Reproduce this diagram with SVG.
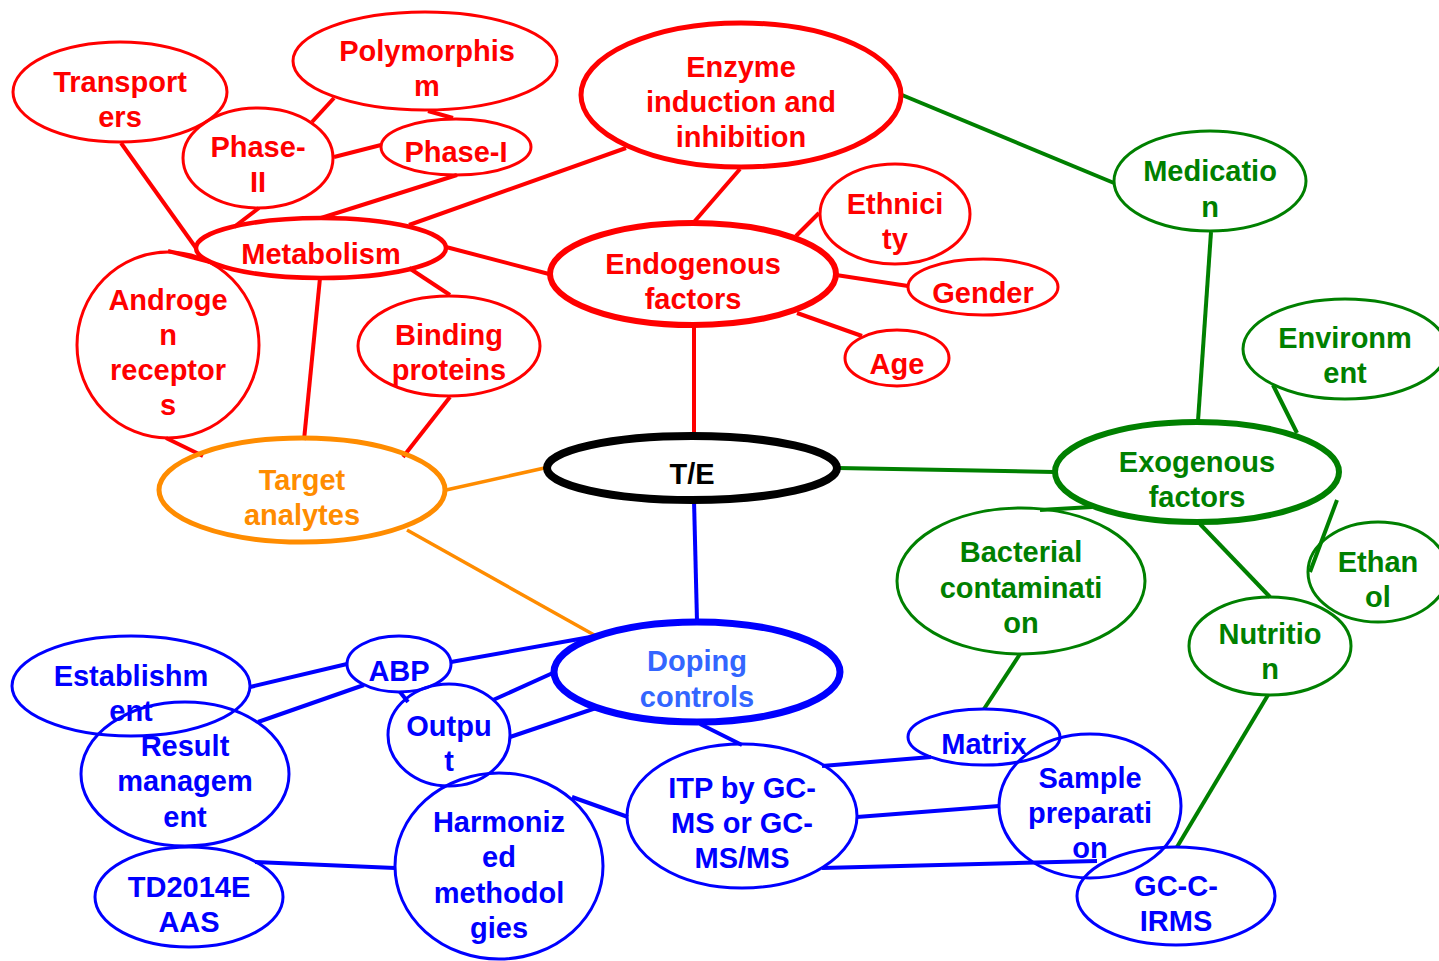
<svg xmlns="http://www.w3.org/2000/svg" width="1439" height="961" viewBox="0 0 1439 961">
<style>
text{font-family:"Liberation Sans",Arial,sans-serif;font-weight:bold;font-size:29px;text-anchor:middle}
ellipse{fill:none}
.r ellipse{stroke:#FF0000;stroke-width:3}
.r text{fill:#FF0000}
.g ellipse{stroke:#008000;stroke-width:3}
.g text{fill:#008000}
.b ellipse{stroke:#0000FF;stroke-width:3}
.b text{fill:#0000FF}
.cr line{stroke:#FF0000;stroke-width:4}
.cg line{stroke:#008000;stroke-width:4}
.cb line{stroke:#0000FF;stroke-width:4}
.co line{stroke:#FF8C00;stroke-width:3.5}
</style>
<rect width="1439" height="961" fill="#FFFFFF"/>
<g id="connectors">
<g class="cr">
<line x1="121" y1="143" x2="196" y2="248"/>
<line x1="334" y1="98" x2="312" y2="122"/>
<line x1="428" y1="111" x2="453" y2="118"/>
<line x1="334" y1="157" x2="381" y2="145"/>
<line x1="259" y1="208" x2="234" y2="227"/>
<line x1="457" y1="175" x2="321" y2="218"/>
<line x1="626" y1="148" x2="409" y2="225"/>
<line x1="446" y1="247" x2="549" y2="274"/>
<line x1="320" y1="278" x2="304" y2="440"/>
<line x1="409" y1="268" x2="450" y2="295"/>
<line x1="450" y1="397" x2="403" y2="457"/>
<line x1="166" y1="438" x2="203" y2="456"/>
<line x1="168" y1="251" x2="210" y2="262"/>
<line x1="740" y1="169" x2="694" y2="222"/>
<line x1="796" y1="236" x2="819" y2="213"/>
<line x1="836" y1="275" x2="908" y2="286"/>
<line x1="797" y1="313" x2="862" y2="336"/>
<line x1="694" y1="326" x2="694" y2="436"/>
</g>
<g class="cg">
<line x1="902" y1="95" x2="1114" y2="183"/>
<line x1="1211" y1="232" x2="1198" y2="421"/>
<line x1="1273" y1="385" x2="1297" y2="433"/>
<line x1="1337" y1="500" x2="1310" y2="572"/>
<line x1="1200" y1="524" x2="1270" y2="597"/>
<line x1="1054" y1="472" x2="838" y2="468"/>
<line x1="1040" y1="510" x2="1092" y2="507"/>
<line x1="1020" y1="654" x2="984" y2="709"/>
<line x1="1268" y1="695" x2="1177" y2="847"/>
</g>
<g class="co">
<line x1="446" y1="490" x2="549" y2="467"/>
<line x1="407" y1="530" x2="596" y2="636"/>
</g>
<g class="cb">
<line x1="694" y1="500" x2="697" y2="621"/>
<line x1="250" y1="687" x2="347" y2="664"/>
<line x1="451" y1="662" x2="596" y2="636"/>
<line x1="258" y1="722" x2="364" y2="685"/>
<line x1="400" y1="692" x2="408" y2="702"/>
<line x1="493" y1="700" x2="555" y2="672"/>
<line x1="510" y1="737" x2="596" y2="708"/>
<line x1="700" y1="724" x2="742" y2="745"/>
<line x1="572" y1="797" x2="628" y2="817"/>
<line x1="255" y1="862" x2="395" y2="868"/>
<line x1="822" y1="766" x2="931" y2="757"/>
<line x1="857" y1="817" x2="999" y2="806"/>
<line x1="822" y1="868" x2="1097" y2="861"/>
</g>
</g>
<g id="transporters" class="r"><ellipse cx="120" cy="92" rx="107" ry="50"/><text x="120" y="92">Transport</text><text x="120" y="127">ers</text></g>
<g id="polymorphism" class="r"><ellipse cx="425" cy="61" rx="132" ry="49"/><text x="427" y="61">Polymorphis</text><text x="427" y="96">m</text></g>
<g id="phase2" class="r"><ellipse cx="258" cy="158" rx="75" ry="50"/><text x="258" y="157">Phase-</text><text x="258" y="192">II</text></g>
<g id="phase1" class="r"><ellipse cx="456" cy="147" rx="75" ry="28"/><text x="456" y="162">Phase-I</text></g>
<g id="enzyme" class="r"><ellipse cx="741" cy="95" rx="160" ry="72" style="stroke-width:5"/><text x="741" y="77">Enzyme</text><text x="741" y="112">induction and</text><text x="741" y="147">inhibition</text></g>
<g id="metabolism" class="r"><ellipse cx="321" cy="248" rx="125" ry="30" style="stroke-width:4.5"/><text x="321" y="264">Metabolism</text></g>
<g id="ethnicity" class="r"><ellipse cx="895" cy="214" rx="75" ry="50"/><text x="895" y="214">Ethnici</text><text x="895" y="249">ty</text></g>
<g id="endogenous" class="r"><ellipse cx="693" cy="274" rx="143" ry="51" style="stroke-width:6"/><text x="693" y="274">Endogenous</text><text x="693" y="309">factors</text></g>
<g id="gender" class="r"><ellipse cx="983" cy="287" rx="75" ry="28"/><text x="983" y="303">Gender</text></g>
<g id="age" class="r"><ellipse cx="897" cy="358" rx="52" ry="28"/><text x="897" y="374">Age</text></g>
<g id="androgen" class="r"><ellipse cx="168" cy="345" rx="91" ry="93"/><text x="168" y="310">Androge</text><text x="168" y="345">n</text><text x="168" y="380">receptor</text><text x="168" y="415">s</text></g>
<g id="binding" class="r"><ellipse cx="449" cy="346" rx="91" ry="50"/><text x="449" y="345">Binding</text><text x="449" y="380">proteins</text></g>
<g id="te"><ellipse cx="692" cy="468" rx="145" ry="32" style="stroke:#000000;stroke-width:8"/><text x="692" y="484" style="fill:#000000">T/E</text></g>
<g id="target"><ellipse cx="302" cy="490" rx="143" ry="52" style="stroke:#FF8C00;stroke-width:5"/><text x="302" y="490" style="fill:#FF8C00">Target</text><text x="302" y="525" style="fill:#FF8C00">analytes</text></g>
<g id="medication" class="g"><ellipse cx="1210" cy="181" rx="96" ry="50"/><text x="1210" y="181">Medicatio</text><text x="1210" y="217">n</text></g>
<g id="environment" class="g"><ellipse cx="1345" cy="349" rx="102" ry="50"/><text x="1345" y="348">Environm</text><text x="1345" y="383">ent</text></g>
<g id="exogenous" class="g"><ellipse cx="1197" cy="472" rx="142" ry="50" style="stroke-width:6"/><text x="1197" y="472">Exogenous</text><text x="1197" y="507">factors</text></g>
<g id="bacterial" class="g"><ellipse cx="1021" cy="581" rx="124" ry="73"/><text x="1021" y="562">Bacterial</text><text x="1021" y="598">contaminati</text><text x="1021" y="633">on</text></g>
<g id="ethanol" class="g"><ellipse cx="1378" cy="572" rx="70" ry="50"/><text x="1378" y="572">Ethan</text><text x="1378" y="607">ol</text></g>
<g id="nutrition" class="g"><ellipse cx="1270" cy="646" rx="81" ry="49"/><text x="1270" y="644">Nutritio</text><text x="1270" y="679">n</text></g>
<g id="doping"><ellipse cx="697" cy="672" rx="143" ry="50" style="stroke:#0000FF;stroke-width:7"/><text x="697" y="671" style="fill:#3366FF">Doping</text><text x="697" y="707" style="fill:#3366FF">controls</text></g>
<g id="establishment" class="b"><ellipse cx="131" cy="686" rx="119" ry="50"/><text x="131" y="686">Establishm</text><text x="131" y="721">ent</text></g>
<g id="abp" class="b"><ellipse cx="399" cy="664" rx="52" ry="28"/><text x="399" y="681">ABP</text></g>
<g id="output" class="b"><ellipse cx="449" cy="735" rx="61" ry="51"/><text x="449" y="736">Outpu</text><text x="449" y="771">t</text></g>
<g id="result" class="b"><ellipse cx="185" cy="774" rx="104" ry="72"/><text x="185" y="756">Result</text><text x="185" y="791">managem</text><text x="185" y="827">ent</text></g>
<g id="harmonized" class="b"><ellipse cx="499" cy="866" rx="104" ry="93"/><text x="499" y="832">Harmoniz</text><text x="499" y="867">ed</text><text x="499" y="903">methodol</text><text x="499" y="938">gies</text></g>
<g id="td2014" class="b"><ellipse cx="189" cy="897" rx="94" ry="50"/><text x="189" y="897">TD2014E</text><text x="189" y="932">AAS</text></g>
<g id="itp" class="b"><ellipse cx="742" cy="816" rx="115" ry="72"/><text x="742" y="798">ITP by GC-</text><text x="742" y="833">MS or GC-</text><text x="742" y="868">MS/MS</text></g>
<g id="matrix" class="b"><ellipse cx="984" cy="737" rx="76" ry="28"/><text x="984" y="754">Matrix</text></g>
<g id="sample" class="b"><ellipse cx="1090" cy="806" rx="91" ry="72"/><text x="1090" y="788">Sample</text><text x="1090" y="823">preparati</text><text x="1090" y="858">on</text></g>
<g id="gccirms" class="b"><ellipse cx="1176" cy="896" rx="99" ry="49"/><text x="1176" y="896">GC-C-</text><text x="1176" y="931">IRMS</text></g>
</svg>
